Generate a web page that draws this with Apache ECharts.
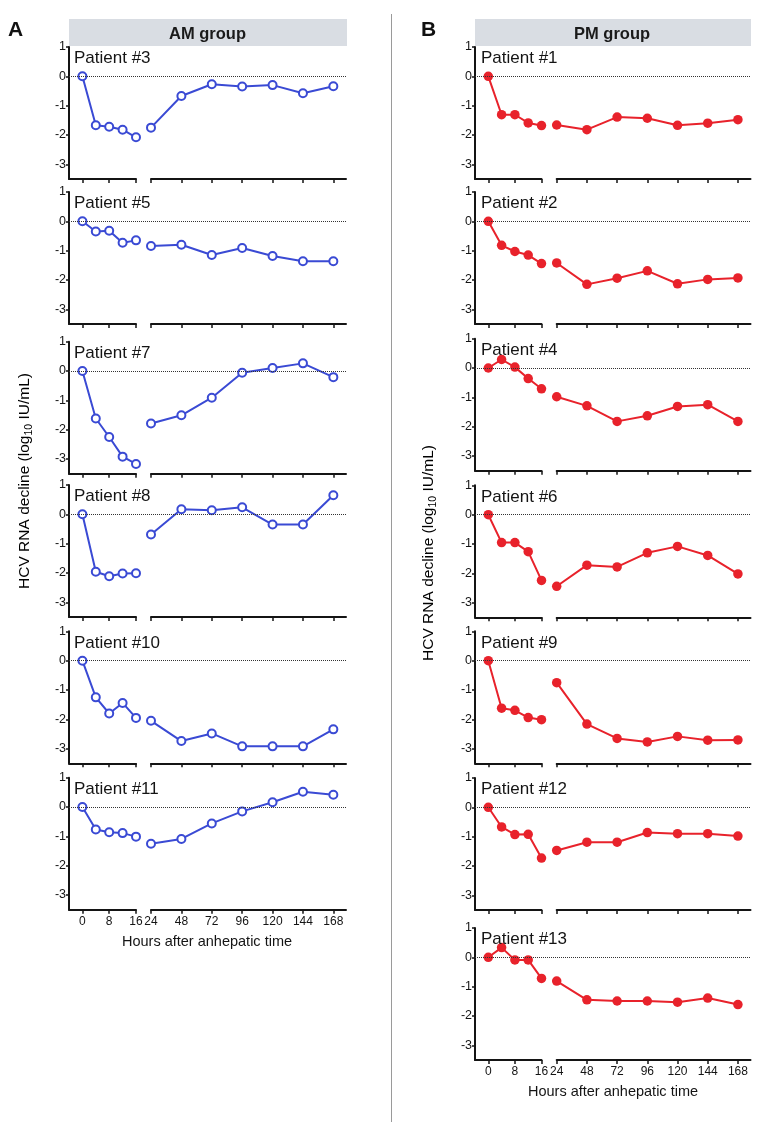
<!DOCTYPE html>
<html><head><meta charset="utf-8">
<script src="https://cdn.jsdelivr.net/npm/echarts@6/dist/echarts.min.js"></script>
<style>html,body{margin:0;padding:0;background:#fff}#c{width:760px;height:1133px}</style>
</head><body><div id="c"></div>
<script>
// ---- data ----
const hoursEarly = [0, 4, 8, 12, 16];
const hoursLate = [24, 48, 72, 96, 120, 144, 168];
const yTicks = [1, 0, -1, -2, -3];
const xTicksEarly = [0, 8, 16];
const xTicksLate = [24, 48, 72, 96, 120, 144, 168];

const amNames = ['Patient #3', 'Patient #5', 'Patient #7', 'Patient #8', 'Patient #10', 'Patient #11'];
const am3  = [0, -1.67, -1.72, -1.82, -2.08, -1.75, -0.67, -0.27, -0.35, -0.30, -0.58, -0.34];
const am5  = [0, -0.35, -0.32, -0.73, -0.65, -0.84, -0.80, -1.15, -0.91, -1.18, -1.36, -1.36];
const am7  = [0, -1.62, -2.25, -2.92, -3.17, -1.79, -1.51, -0.91, -0.06, 0.10, 0.26, -0.21];
const am8  = [0, -1.96, -2.11, -2.02, -2.01, -0.69, 0.17, 0.14, 0.24, -0.35, -0.35, 0.65];
const am10 = [0, -1.25, -1.80, -1.44, -1.95, -2.05, -2.74, -2.48, -2.92, -2.92, -2.92, -2.34];
const am11 = [0, -0.77, -0.86, -0.89, -1.01, -1.25, -1.09, -0.56, -0.15, 0.16, 0.52, 0.42];

const pmNames = ['Patient #1', 'Patient #2', 'Patient #4', 'Patient #6', 'Patient #9', 'Patient #12', 'Patient #13'];
const pm1  = [0, -1.31, -1.31, -1.59, -1.68, -1.66, -1.82, -1.39, -1.43, -1.67, -1.60, -1.48];
const pm2  = [0, -0.82, -1.03, -1.15, -1.44, -1.42, -2.15, -1.94, -1.69, -2.13, -1.98, -1.93];
const pm4  = [0, 0.29, 0.03, -0.36, -0.71, -0.98, -1.29, -1.82, -1.63, -1.31, -1.25, -1.82];
const pm6  = [0, -0.95, -0.95, -1.26, -2.24, -2.44, -1.72, -1.78, -1.30, -1.08, -1.39, -2.02];
const pm9  = [0, -1.62, -1.69, -1.94, -2.01, -0.75, -2.16, -2.65, -2.77, -2.58, -2.71, -2.70];
const pm12 = [0, -0.67, -0.93, -0.92, -1.73, -1.47, -1.19, -1.19, -0.86, -0.90, -0.90, -0.98];
const pm13 = [0, 0.33, -0.09, -0.09, -0.72, -0.81, -1.45, -1.49, -1.49, -1.53, -1.39, -1.61];

const amSeries = [am3, am5, am7, am8, am10, am11];
const pmSeries = [pm1, pm2, pm4, pm6, pm9, pm12, pm13];

// ---- layout ----
const FONT = '"Liberation Sans", Arial, Helvetica, sans-serif';
const UNIT = 88 / 3, YMIN = -3.5, YMAX = 1;
const BLUE = '#3a4ad4', RED = '#e8222b', INK = '#141414';
const geomA = { axisX: 69, earlyEnd: 136, lateStart: 151, lateEnd: 346, textX: 74, zeros: [76.3, 221.3, 371, 514.3, 660.7, 807] };
const geomB = { axisX: 475, earlyEnd: 541.5, lateStart: 556.7, lateEnd: 750.5, textX: 481, zeros: [76.3, 221.3, 368, 514.7, 660.7, 807.3, 957.3] };

const grids = [], xAxes = [], yAxes = [], series = [], titles = [];

function addPanel(geom, name, vals, zero, isLast, color, open) {
  const top = zero - YMAX * UNIT;
  const h = (YMAX - YMIN) * UNIT;
  const gi = grids.length;
  grids.push({ left: geom.axisX, top: top, width: geom.earlyEnd - geom.axisX, height: h });
  grids.push({ left: geom.lateStart, top: top, width: geom.lateEnd - geom.lateStart, height: h });
  grids.push({ left: geom.axisX, top: top, width: geom.lateEnd - geom.axisX, height: h });
  const lineAx = { onZero: false, lineStyle: { color: INK, width: 2 } };
  const lab = (vals) => ({ show: isLast, customValues: vals, color: INK, fontSize: 12, fontFamily: FONT, margin: 6 });
  xAxes.push({ gridIndex: gi, type: 'value', min: -4, max: 16, axisLine: lineAx,
    axisTick: { customValues: xTicksEarly, length: 4, lineStyle: { color: INK, width: 1.5 } },
    axisLabel: lab(xTicksEarly), splitLine: { show: false } });
  xAxes.push({ gridIndex: gi + 1, type: 'value', min: 24, max: 178, axisLine: lineAx,
    axisTick: { customValues: xTicksLate, length: 4, lineStyle: { color: INK, width: 1.5 } },
    axisLabel: lab(xTicksLate), splitLine: { show: false } });
  xAxes.push({ gridIndex: gi + 2, type: 'value', min: 0, max: 1, show: false });
  yAxes.push({ gridIndex: gi, type: 'value', min: YMIN, max: YMAX, axisLine: lineAx,
    axisTick: { customValues: yTicks, length: 3, lineStyle: { color: INK, width: 1.5 } },
    axisLabel: { customValues: yTicks, color: INK, fontSize: 12.5, fontFamily: FONT, margin: 3 },
    splitLine: { show: false } });
  yAxes.push({ gridIndex: gi + 1, type: 'value', min: YMIN, max: YMAX, show: false });
  yAxes.push({ gridIndex: gi + 2, type: 'value', min: YMIN, max: YMAX, show: false });

  series.push({ type: 'line', xAxisIndex: gi + 2, yAxisIndex: gi + 2, data: [], z: 1, silent: true,
    markLine: { silent: true, symbol: ['none', 'none'], label: { show: false },
      lineStyle: { type: 'dotted', color: '#333', width: 1 }, data: [{ yAxis: 0 }] } });

  const itemStyle = open ? { color: '#fff', borderColor: color, borderWidth: 2 } : { color: color, borderColor: color, borderWidth: 0 };
  const common = { type: 'line', z: 3, symbol: 'circle', symbolSize: open ? 8 : 9.5, showAllSymbol: true,
    lineStyle: { color: color, width: 2 }, itemStyle: itemStyle, animation: false };
  series.push(Object.assign({ xAxisIndex: gi, yAxisIndex: gi,
    data: hoursEarly.map((t, i) => [t, vals[i]]) }, common));
  series.push(Object.assign({ xAxisIndex: gi + 1, yAxisIndex: gi + 1,
    data: hoursLate.map((t, i) => [t, vals[i + hoursEarly.length]]) }, common));

  titles.push({ text: name, left: geom.textX, top: zero - 26, padding: 0,
    textStyle: { fontSize: 17, fontWeight: 'normal', color: INK, fontFamily: FONT } });
}

amNames.forEach((n, i) => addPanel(geomA, n, amSeries[i], geomA.zeros[i], i === amNames.length - 1, BLUE, true));
pmNames.forEach((n, i) => addPanel(geomB, n, pmSeries[i], geomB.zeros[i], i === pmNames.length - 1, RED, false));

const yTitleRich = {
  a: { fontSize: 15.5, fontFamily: FONT, color: INK, lineHeight: 20, verticalAlign: 'middle' },
  b: { fontSize: 10.5, fontFamily: FONT, color: INK, lineHeight: 10, verticalAlign: 'bottom' }
};
const yTitleText = '{a|HCV RNA decline (log}{b|10}{a| IU/mL)}';

const graphic = [
  { type: 'rect', shape: { x: 69, y: 19, width: 278, height: 27 }, style: { fill: '#d9dde3' } },
  { type: 'rect', shape: { x: 475, y: 19, width: 276, height: 27 }, style: { fill: '#d9dde3' } },
  { type: 'text', x: 207.5, y: 34, style: { text: 'AM group', font: 'bold 16.5px ' + FONT, fill: '#1a1a1a', align: 'center', verticalAlign: 'middle' } },
  { type: 'text', x: 612, y: 34, style: { text: 'PM group', font: 'bold 16.5px ' + FONT, fill: '#1a1a1a', align: 'center', verticalAlign: 'middle' } },
  { type: 'text', x: 8, y: 30.5, style: { text: 'A', font: 'bold 21px ' + FONT, fill: '#111', align: 'left', verticalAlign: 'middle' } },
  { type: 'text', x: 421, y: 30.5, style: { text: 'B', font: 'bold 21px ' + FONT, fill: '#111', align: 'left', verticalAlign: 'middle' } },
  { type: 'line', shape: { x1: 391.5, y1: 14, x2: 391.5, y2: 1122 }, style: { stroke: '#9a9a9a', lineWidth: 1 } },
  { type: 'text', x: 25, y: 481, rotation: Math.PI / 2, style: { text: yTitleText, rich: yTitleRich, align: 'center', verticalAlign: 'middle' } },
  { type: 'text', x: 429, y: 553, rotation: Math.PI / 2, style: { text: yTitleText, rich: yTitleRich, align: 'center', verticalAlign: 'middle' } },
  { type: 'text', x: 207, y: 942, style: { text: 'Hours after anhepatic time', font: '14.5px ' + FONT, fill: INK, align: 'center', verticalAlign: 'middle' } },
  { type: 'text', x: 613, y: 1092, style: { text: 'Hours after anhepatic time', font: '14.5px ' + FONT, fill: INK, align: 'center', verticalAlign: 'middle' } }
];

const chart = echarts.init(document.getElementById('c'), null, { renderer: 'canvas', width: 760, height: 1133 });
chart.setOption({
  animation: false,
  backgroundColor: '#fff',
  title: titles,
  grid: grids,
  xAxis: xAxes,
  yAxis: yAxes,
  series: series,
  graphic: graphic
});
</script>
</body></html>
